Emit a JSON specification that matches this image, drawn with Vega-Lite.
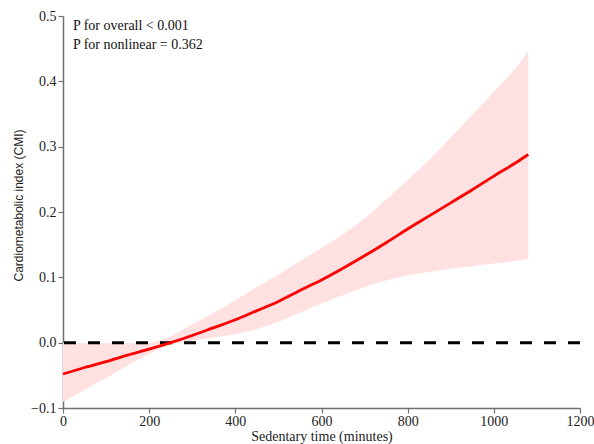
{
  "$schema": "https://vega.github.io/schema/vega-lite/v6.json",
  "width": 517,
  "height": 392,
  "autosize": {"type": "none"},
  "padding": {"left": 63, "top": 16, "right": 14, "bottom": 36},
  "background": "white",
  "config": {
    "view": {"stroke": null},
    "axis": {
      "grid": false,
      "domainColor": "#707070",
      "domainWidth": 1.5,
      "tickColor": "#707070",
      "tickWidth": 1.2,
      "tickSize": 5,
      "labelFont": "Liberation Serif, Times New Roman, serif",
      "labelFontSize": 14,
      "labelColor": "#222222",
      "titleColor": "#222222",
      "titleFontWeight": "normal",
      "titleFontSize": 14
    }
  },
  "datasets": {
    "curve": [
      {"x": 0, "fit": -0.048, "lower": -0.091, "upper": 0.000},
      {"x": 50, "fit": -0.038, "lower": -0.072, "upper": -0.001},
      {"x": 100, "fit": -0.029, "lower": -0.054, "upper": -0.001},
      {"x": 150, "fit": -0.019, "lower": -0.035, "upper": -0.001},
      {"x": 200, "fit": -0.010, "lower": -0.017, "upper": 0.000},
      {"x": 250, "fit": 0.000, "lower": -0.003, "upper": 0.010},
      {"x": 300, "fit": 0.011, "lower": 0.003, "upper": 0.028},
      {"x": 350, "fit": 0.023, "lower": 0.008, "upper": 0.046},
      {"x": 400, "fit": 0.035, "lower": 0.013, "upper": 0.065},
      {"x": 450, "fit": 0.049, "lower": 0.021, "upper": 0.085},
      {"x": 500, "fit": 0.063, "lower": 0.032, "upper": 0.104},
      {"x": 550, "fit": 0.080, "lower": 0.046, "upper": 0.125},
      {"x": 600, "fit": 0.096, "lower": 0.060, "upper": 0.145},
      {"x": 650, "fit": 0.114, "lower": 0.073, "upper": 0.166},
      {"x": 700, "fit": 0.133, "lower": 0.085, "upper": 0.190},
      {"x": 750, "fit": 0.153, "lower": 0.095, "upper": 0.219},
      {"x": 800, "fit": 0.174, "lower": 0.103, "upper": 0.249},
      {"x": 850, "fit": 0.194, "lower": 0.108, "upper": 0.280},
      {"x": 900, "fit": 0.214, "lower": 0.113, "upper": 0.314},
      {"x": 950, "fit": 0.234, "lower": 0.117, "upper": 0.349},
      {"x": 1000, "fit": 0.255, "lower": 0.121, "upper": 0.384},
      {"x": 1050, "fit": 0.275, "lower": 0.125, "upper": 0.420},
      {"x": 1080, "fit": 0.288, "lower": 0.128, "upper": 0.446}
    ],
    "notes": [
      {"x": 23, "y": 0.484, "label": "P for overall < 0.001"},
      {"x": 23, "y": 0.456, "label": "P for nonlinear = 0.362"}
    ]
  },
  "layer": [
    {
      "data": {"name": "curve"},
      "mark": {"type": "area", "color": "#ffe1e1", "opacity": 1, "interpolate": "monotone"},
      "encoding": {
        "x": {
          "field": "x", "type": "quantitative",
          "scale": {"domain": [0, 1200], "nice": false},
          "axis": {"values": [0, 200, 400, 600, 800, 1000, 1200], "format": "d", "title": "Sedentary time (minutes)", "titleFont": "Liberation Serif, Times New Roman, serif", "labelPadding": 1, "titlePadding": 1, "labelFlush": false}
        },
        "y": {
          "field": "lower", "type": "quantitative",
          "scale": {"domain": [-0.1, 0.5], "nice": false},
          "axis": {"values": [-0.1, 0, 0.1, 0.2, 0.3, 0.4, 0.5], "format": ".1f", "title": "Cardiometabolic index (CMI)", "titleFont": "Liberation Sans, Arial, sans-serif", "titleFontSize": 12, "titleY": 189, "labelPadding": 2, "titlePadding": 5, "labelFlush": false}
        },
        "y2": {"field": "upper"}
      }
    },
    {
      "data": {"values": [{"v": 0}]},
      "mark": {"type": "rule", "color": "black", "strokeWidth": 3, "strokeDash": [12, 12]},
      "encoding": {"y": {"field": "v", "type": "quantitative"}}
    },
    {
      "data": {"name": "curve"},
      "mark": {"type": "line", "color": "#ff0000", "strokeWidth": 2.8, "interpolate": "monotone"},
      "encoding": {
        "x": {"field": "x", "type": "quantitative"},
        "y": {"field": "fit", "type": "quantitative"}
      }
    },
    {
      "data": {"name": "notes"},
      "mark": {"type": "text", "align": "left", "baseline": "middle", "font": "Liberation Serif, Times New Roman, serif", "fontSize": 14, "color": "#111111"},
      "encoding": {
        "x": {"field": "x", "type": "quantitative"},
        "y": {"field": "y", "type": "quantitative"},
        "text": {"field": "label"}
      }
    }
  ]
}
